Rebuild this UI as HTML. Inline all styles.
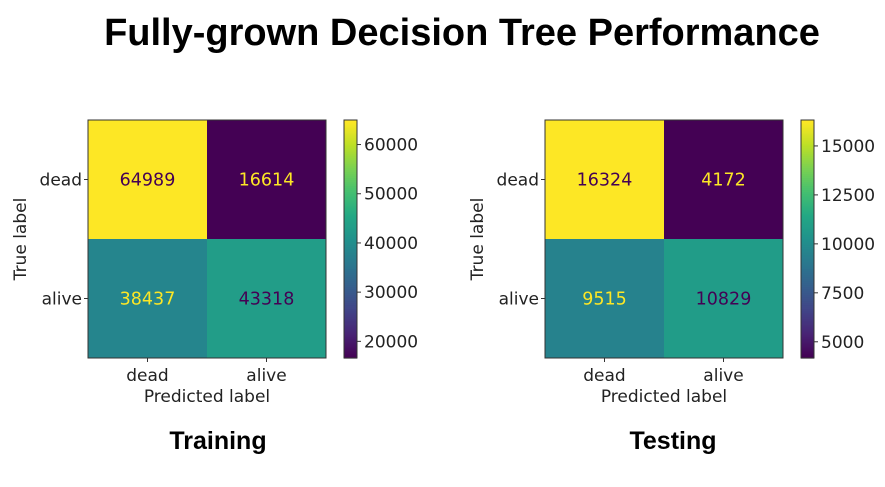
<!DOCTYPE html>
<html><head><meta charset="utf-8"><style>
body{margin:0;background:#fff;width:885px;height:487px;overflow:hidden}
svg{display:block}
</style></head><body>
<svg id="chart" width="885" height="487" xmlns="http://www.w3.org/2000/svg">
<text x="462" y="45" text-anchor="middle" font-family="Liberation Sans, sans-serif" font-weight="bold" font-size="38" fill="#000">Fully-grown Decision Tree Performance</text>
<text x="218" y="449" text-anchor="middle" font-family="Liberation Sans, sans-serif" font-weight="bold" font-size="25" fill="#000">Training</text>
<text x="673" y="449" text-anchor="middle" font-family="Liberation Sans, sans-serif" font-weight="bold" font-size="25" fill="#000">Testing</text>
</svg>
<script>
const classLabels = ["dead", "alive"];
const trainValues = [[64989, 16614], [38437, 43318]];
const testValues = [[16324, 4172], [9515, 10829]];
const trainTicks = [20000, 30000, 40000, 50000, 60000];
const testTicks = [5000, 7500, 10000, 12500, 15000];

const NS = "http://www.w3.org/2000/svg";
const svg = document.getElementById("chart");
const VIR = ["#440154","#482475","#414487","#355f8d","#2a788e","#21918c","#22a884","#44bf70","#7ad151","#bddf26","#fde725"];
function hex(h){return [1,3,5].map(i=>parseInt(h.substr(i,2),16));}
function viridis(t){
  t=Math.max(0,Math.min(1,t));
  const p=t*10,i=Math.min(9,Math.floor(p)),f=p-i;
  const a=hex(VIR[i]),b=hex(VIR[i+1]);
  return "rgb("+a.map((v,k)=>Math.round(v+(b[k]-v)*f)).join(",")+")";
}
function el(tag,attrs,parent){const e=document.createElementNS(NS,tag);for(const k in attrs)e.setAttribute(k,attrs[k]);(parent||svg).appendChild(e);return e;}
const FONT="DejaVu Sans, Liberation Sans, sans-serif";

function drawMatrix(values,ticks,x0,y0,size,cbX,name){
  const g=el("g",{});
  
  
  const flat=values.flat(),mn=Math.min(...flat),mx=Math.max(...flat);
  const norm=v=>(v-mn)/(mx-mn);
  const thresh=(mn+mx)/2;
  const cs=size/classLabels.length;
  values.forEach((row,r)=>row.forEach((v,c)=>{
    const rect=el("rect",{x:x0+c*cs,y:y0+r*cs,width:cs,height:cs,fill:viridis(norm(v))},g);
    
    
    const t=el("text",{x:x0+(c+0.5)*cs,y:y0+(r+0.5)*cs+6,"text-anchor":"middle","font-family":FONT,"font-size":17.5,fill:v<thresh?"#fde725":"#440154"},g);
    t.textContent=v;
    
    
  }));
  el("rect",{x:x0,y:y0,width:size,height:size,fill:"none",stroke:"#333","stroke-width":1},g);
  classLabels.forEach((lab,i)=>{
    const cx=x0+(i+0.5)*cs;
    el("line",{x1:cx,x2:cx,y1:y0+size,y2:y0+size+4,stroke:"#333"},g);
    const tx=el("text",{x:cx,y:y0+size+23,"text-anchor":"middle","font-family":FONT,"font-size":17,fill:"#222"},g);
    tx.textContent=lab;
    
    
    const cy=y0+(i+0.5)*cs;
    el("line",{x1:x0-4,x2:x0,y1:cy,y2:cy,stroke:"#333"},g);
    const ty=el("text",{x:x0-6,y:cy+6,"text-anchor":"end","font-family":FONT,"font-size":17,fill:"#222"},g);
    ty.textContent=lab;
    
    
  });
  const xl=el("text",{x:x0+size/2,y:y0+size+44,"text-anchor":"middle","font-family":FONT,"font-size":17,fill:"#222"},g);
  xl.textContent="Predicted label";
  
  
  const yl=el("text",{x:0,y:0,"text-anchor":"middle","font-family":FONT,"font-size":17,fill:"#222",transform:"translate("+(x0-62)+","+(y0+size/2)+") rotate(-90)"},g);
  yl.textContent="True label";
  
  
  const cw=13,n=120;
  const cb=el("g",{},g);
  
  
  for(let i=0;i<n;i++){
    el("rect",{x:cbX,y:y0+size-(i+1)*size/n,width:cw,height:size/n+0.6,fill:viridis(i/(n-1))},cb);
  }
  el("rect",{x:cbX,y:y0,width:cw,height:size,fill:"none",stroke:"#333"},cb);
  ticks.forEach(tv=>{
    const yy=y0+size-norm(tv)*size;
    el("line",{x1:cbX+cw,x2:cbX+cw+4,y1:yy,y2:yy,stroke:"#333"},cb);
    const tt=el("text",{x:cbX+cw+7,y:yy+6,"font-family":FONT,"font-size":17,fill:"#222"},cb);
    tt.textContent=tv;
    
    
  });
}
drawMatrix(trainValues,trainTicks,88,120,238,344,"training");
drawMatrix(testValues,testTicks,545,120,238,801,"testing");
</script>
</body></html>
